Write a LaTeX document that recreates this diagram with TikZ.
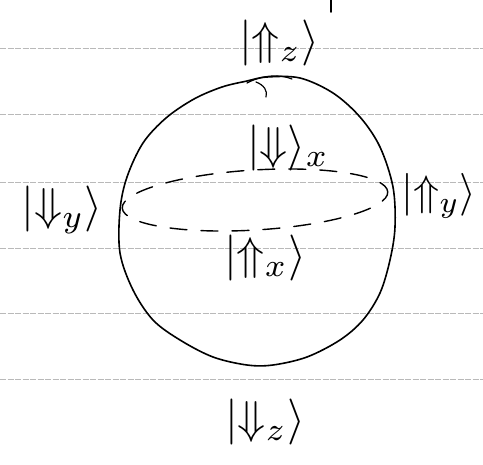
\documentclass[tikz,border=0pt]{standalone}
\usepackage{amsmath}
\begin{document}
\begin{tikzpicture}[x=1pt,y=-1pt,
  rule/.style={gray!55,line width=0.5pt,dash pattern=on 6pt off 1.5pt},
  pen/.style={black,line width=1.6pt,line cap=round,line join=round},
  ket/.style={inner sep=0pt,scale=4.6}]
\useasboundingbox[fill=white] (0,0) rectangle (483,465);
% ruled paper lines
\foreach \yy in {48,114,182,248,313,379}
  \draw[rule] (0,\yy) -- (483,\yy);
% small tick at top
\draw[pen] (331,0) -- (331,12);
% sphere outline
\draw[pen] plot[smooth cycle,tension=0.55] coordinates {
  (267,77) (300,78) (333,93) (360,117) (380,147) (393,187) (395,227)
  (390,260) (380,293) (363,320) (340,340) (307,357) (273,365) (247,365)
  (213,357) (180,340) (153,320) (133,290) (120,253) (120,210) (127,177)
  (143,143) (166,118) (194,99) (222,87) (247,81)};
% little squiggle at the top
\draw[pen,line width=1.2pt] (247,83) .. controls (262,75) and (280,74) .. (292,79);
\draw[pen,line width=1.2pt] (256,82) .. controls (264,85) and (268,91) .. (266,97);
% dashed equator
\draw[pen,line width=1.4pt,dash pattern=on 17pt off 14pt,dash phase=6pt]
  (255,200) ellipse [x radius=133, y radius=30, rotate=3.5];
% labels
\node[ket] (upz) at (279,43) {$|{\Uparrow_{z}}\rangle$};
\node[ket] (downx) at (288,148) {$|{\Downarrow}\rangle_{x}$};
\node[ket] (upx) at (265,258) {$|{\Uparrow_{x}}\rangle$};
\node[ket] (downy) at (62,210) {$|{\Downarrow_{y}}\rangle$};
\node[ket,scale=0.93] (upy) at (439,196) {$|{\Uparrow_{y}}\rangle$};
\node[ket] (downz) at (265,422) {$|{\Downarrow_{z}}\rangle$};
\end{tikzpicture}
\end{document}
